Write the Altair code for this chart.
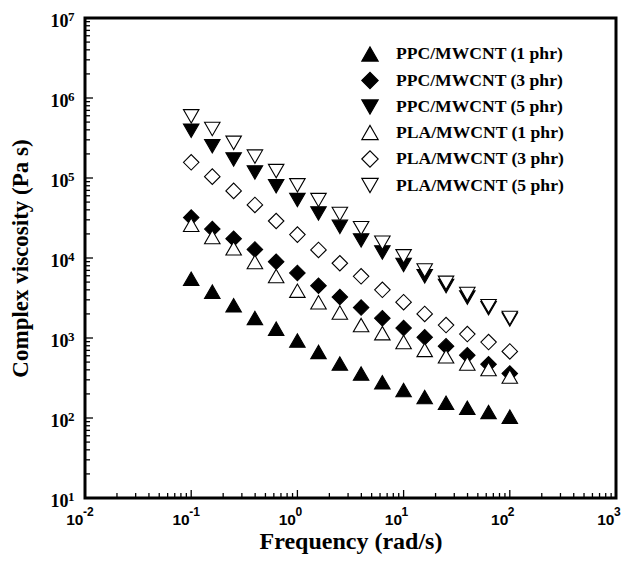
import altair as alt
import pandas as pd

# ---- data ----
freq = [0.1, 0.158, 0.251, 0.398, 0.631, 1.0, 1.58, 2.51, 3.98, 6.31,
        10.0, 15.8, 25.1, 39.8, 63.1, 100.0]

ppc_1 = [5500, 3800, 2560, 1780, 1310, 930, 670, 480, 360, 280, 224, 183, 155, 134, 119, 104]
ppc_3 = [32000, 23000, 17400, 12800, 9000, 6500, 4500, 3250, 2400, 1770, 1330, 1020, 790, 610, 470, 360]
ppc_5 = [390000, 250000, 170000, 117000, 79000, 53000, 36000, 24500, 16600, 11700, 8200, 5900, 4450, 3200, 2350, 1700]
pla_1 = [26000, 18300, 13200, 8900, 5960, 3900, 2800, 2080, 1450, 1150, 890, 710, 590, 480, 410, 330]
pla_3 = [157000, 104000, 69000, 46000, 29000, 19600, 12600, 8600, 5900, 4000, 2800, 2000, 1450, 1120, 890, 680]
pla_5 = [590000, 410000, 275000, 185000, 122000, 81000, 53000, 35500, 23600, 15500, 10500, 7000, 4900, 3550, 2500, 1780]

series_names = ["PPC/MWCNT (1 phr)", "PPC/MWCNT (3 phr)", "PPC/MWCNT (5 phr)",
                "PLA/MWCNT (1 phr)", "PLA/MWCNT (3 phr)", "PLA/MWCNT (5 phr)"]
series_values = [ppc_1, ppc_3, ppc_5, pla_1, pla_3, pla_5]
series_shapes = ["triangle-up", "diamond", "triangle-down",
                 "triangle-up", "diamond", "triangle-down"]
series_fills = ["black", "black", "black", "white", "white", "white"]
series_strokes = ["black"] * 6

x_major = [0.01, 0.1, 1, 10, 100, 1000]
y_major = [10, 100, 1000, 1e4, 1e5, 1e6, 1e7]
x_exponents = ["-2", "-1", "0", "1", "2", "3"]
y_exponents = ["1", "2", "3", "4", "5", "6", "7"]
minor_mult = [2, 3, 4, 5, 6, 7, 8, 9]

rows = []
for i, (name, vals) in enumerate(zip(series_names, series_values)):
    for f, v in zip(freq, vals):
        rows.append({"series": name, "idx": i, "freq": f, "eta": v})
df = pd.DataFrame(rows)

x_minor = [m * d for d in x_major[:-1] for m in minor_mult]
y_minor = [m * d for d in y_major[:-1] for m in minor_mult]

W, H = 531, 480
MAJ, MIN = 8, 5

xscale = alt.Scale(type="log", domain=[0.01, 1000], nice=False)
yscale = alt.Scale(type="log", domain=[10, 1e7], nice=False)

xaxis = alt.Axis(values=x_major, labelExpr="'10'", ticks=False, tickSize=0, domain=False, grid=False,
                 labelFont="Liberation Sans", labelFontWeight="bold", labelFontSize=15.5,
                 labelColor="black", labelAlign="right", labelBaseline="alphabetic",
                 labelOffset=-2, labelPadding=26, labelFlush=False,
                 title="Frequency (rad/s)", titleFont="Liberation Serif",
                 titleFontWeight="bold", titleFontSize=24, titleColor="black",
                 titleBaseline="alphabetic", titleY=50, titleX=W / 2)
yaxis = alt.Axis(values=y_major, labelExpr="'10'", ticks=False, tickSize=0, domain=False, grid=False,
                 labelFont="Liberation Serif", labelFontWeight="bold", labelFontSize=18,
                 labelColor="black", labelAlign="right", labelBaseline="alphabetic",
                 labelOffset=8, labelPadding=17, labelFlush=False,
                 title="Complex viscosity (Pa s)", titleFont="Liberation Serif",
                 titleFontWeight="bold", titleFontSize=23, titleColor="black",
                 titleBaseline="alphabetic", titleX=-58, titleY=H / 2, titleAngle=270)

legend = alt.Legend(title=None, orient="none", legendX=276, legendY=27,
                    labelFont="Liberation Serif", labelFontWeight="bold",
                    labelFontSize=17.6, labelColor="black", labelOffset=17,
                    symbolSize=270, symbolStrokeWidth=1.1, rowPadding=5.5, padding=0,
                    labelLimit=300)

points = alt.Chart(df).mark_point(filled=True, strokeWidth=1.1, opacity=1).encode(
    x=alt.X("freq:Q", scale=xscale, axis=xaxis),
    y=alt.Y("eta:Q", scale=yscale, axis=yaxis),
    shape=alt.Shape("series:N", scale=alt.Scale(domain=series_names, range=series_shapes), legend=legend),
    fill=alt.Fill("series:N", scale=alt.Scale(domain=series_names, range=series_fills), legend=legend),
    stroke=alt.Stroke("series:N", scale=alt.Scale(domain=series_names, range=series_strokes), legend=legend),
    order=alt.Order("idx:Q"),
    size=alt.value(240),
)


def xtick_layer(vals, length):
    return alt.Chart(pd.DataFrame({"freq": vals})).mark_rule(color="black", strokeWidth=1.3).encode(
        x=alt.X("freq:Q", scale=xscale, axis=xaxis),
        y=alt.value(H - length),
        y2=alt.value(H),
    )


def ytick_layer(vals, length):
    return alt.Chart(pd.DataFrame({"eta": vals})).mark_rule(color="black", strokeWidth=1.3).encode(
        y=alt.Y("eta:Q", scale=yscale, axis=yaxis),
        x=alt.value(0),
        x2=alt.value(length),
    )


x_exp = alt.Chart(pd.DataFrame({"freq": x_major, "e": x_exponents})).mark_text(
    align="left", baseline="alphabetic", font="Liberation Sans", fontWeight="bold",
    fontSize=12, color="black", dx=-2,
).encode(
    x=alt.X("freq:Q", scale=xscale, axis=xaxis),
    y=alt.value(H + 18),
    text="e:N",
)

y_exp = alt.Chart(pd.DataFrame({"eta": y_major, "e": y_exponents})).mark_text(
    align="left", baseline="alphabetic", font="Liberation Serif", fontWeight="bold",
    fontSize=13, color="black", dy=3,
).encode(
    y=alt.Y("eta:Q", scale=yscale, axis=yaxis),
    x=alt.value(-17),
    text="e:N",
)

chart = alt.layer(
    points,
    xtick_layer(x_major, MAJ), xtick_layer(x_minor, MIN),
    ytick_layer(y_major, MAJ), ytick_layer(y_minor, MIN),
    x_exp, y_exp,
).properties(
    width=W, height=H,
    autosize=alt.AutoSizeParams(type="none"),
    padding={"left": 85, "top": 18, "right": 13, "bottom": 64},
).configure(background="white").configure_view(stroke="black", strokeWidth=3)

chart.save("out.html", embed_options={"renderer": "svg", "actions": False})
